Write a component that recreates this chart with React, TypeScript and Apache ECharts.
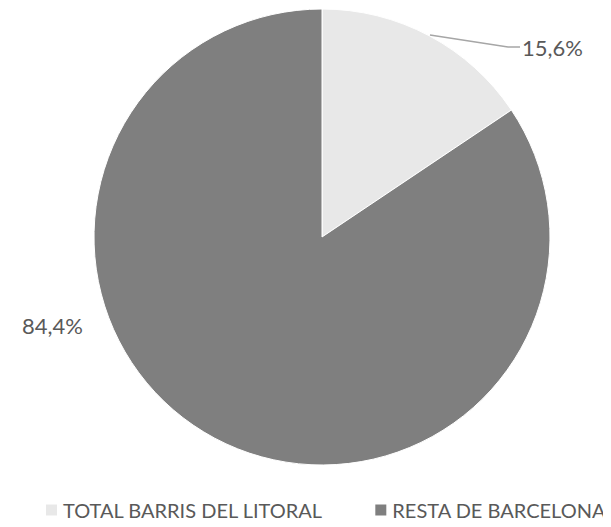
import React, { useEffect, useRef } from "react";
import * as echarts from "echarts";

const categories = ["TOTAL BARRIS DEL LITORAL", "RESTA DE BARCELONA"];
const values = [15.6, 84.4];
const colors = ["#e8e8e8", "#7f7f7f"];

export default function App() {
  const ref = useRef<HTMLDivElement>(null);
  useEffect(() => {
    if (!ref.current) return;
    const chart = echarts.init(ref.current, undefined, { renderer: "svg" });
    chart.setOption({
      animation: false,
      color: colors,
      textStyle: { fontFamily: "Lato" },
      legend: {
        top: 492,
        left: 36,
        width: 580,
        padding: 0,
        icon: "rect",
        itemWidth: 13,
        itemHeight: 13,
        itemGap: 50,
        textStyle: { fontSize: 20, color: "#595959", fontFamily: "Lato" },
        data: categories,
      },
      series: [
        {
          type: "pie",
          center: [314, 229],
          radius: 228,
          startAngle: 90,
          clockwise: true,
          data: categories.map((c, i) => ({
            name: c,
            value: values[i],
            itemStyle: { color: colors[i], borderColor: "#ffffff", borderWidth: 1 },
          })),
          label: {
            show: true,
            formatter: (p: any) => p.value.toFixed(1).replace(".", ",") + "%",
            fontSize: 22,
            color: "#595959",
            fontFamily: "Lato",
          },
          labelLine: { show: true, lineStyle: { color: "#a6a6a6", width: 1.5 } },
          labelLayout: (p: any) => {
            if (p.dataIndex === 0) {
              return {
                x: 514,
                y: 39,
                align: "left",
                verticalAlign: "middle",
                labelLinePoints: [
                  [422, 27],
                  [500, 39],
                  [512, 39],
                ],
              };
            }
            return {
              x: 14,
              y: 317,
              align: "left",
              verticalAlign: "middle",
              labelLinePoints: [
                [14, 317],
                [14, 317],
                [14, 317],
              ],
            };
          },
        },
      ],
    });
    return () => chart.dispose();
  }, []);
  return <div ref={ref} style={{ width: 603, height: 519 }} />;
}
